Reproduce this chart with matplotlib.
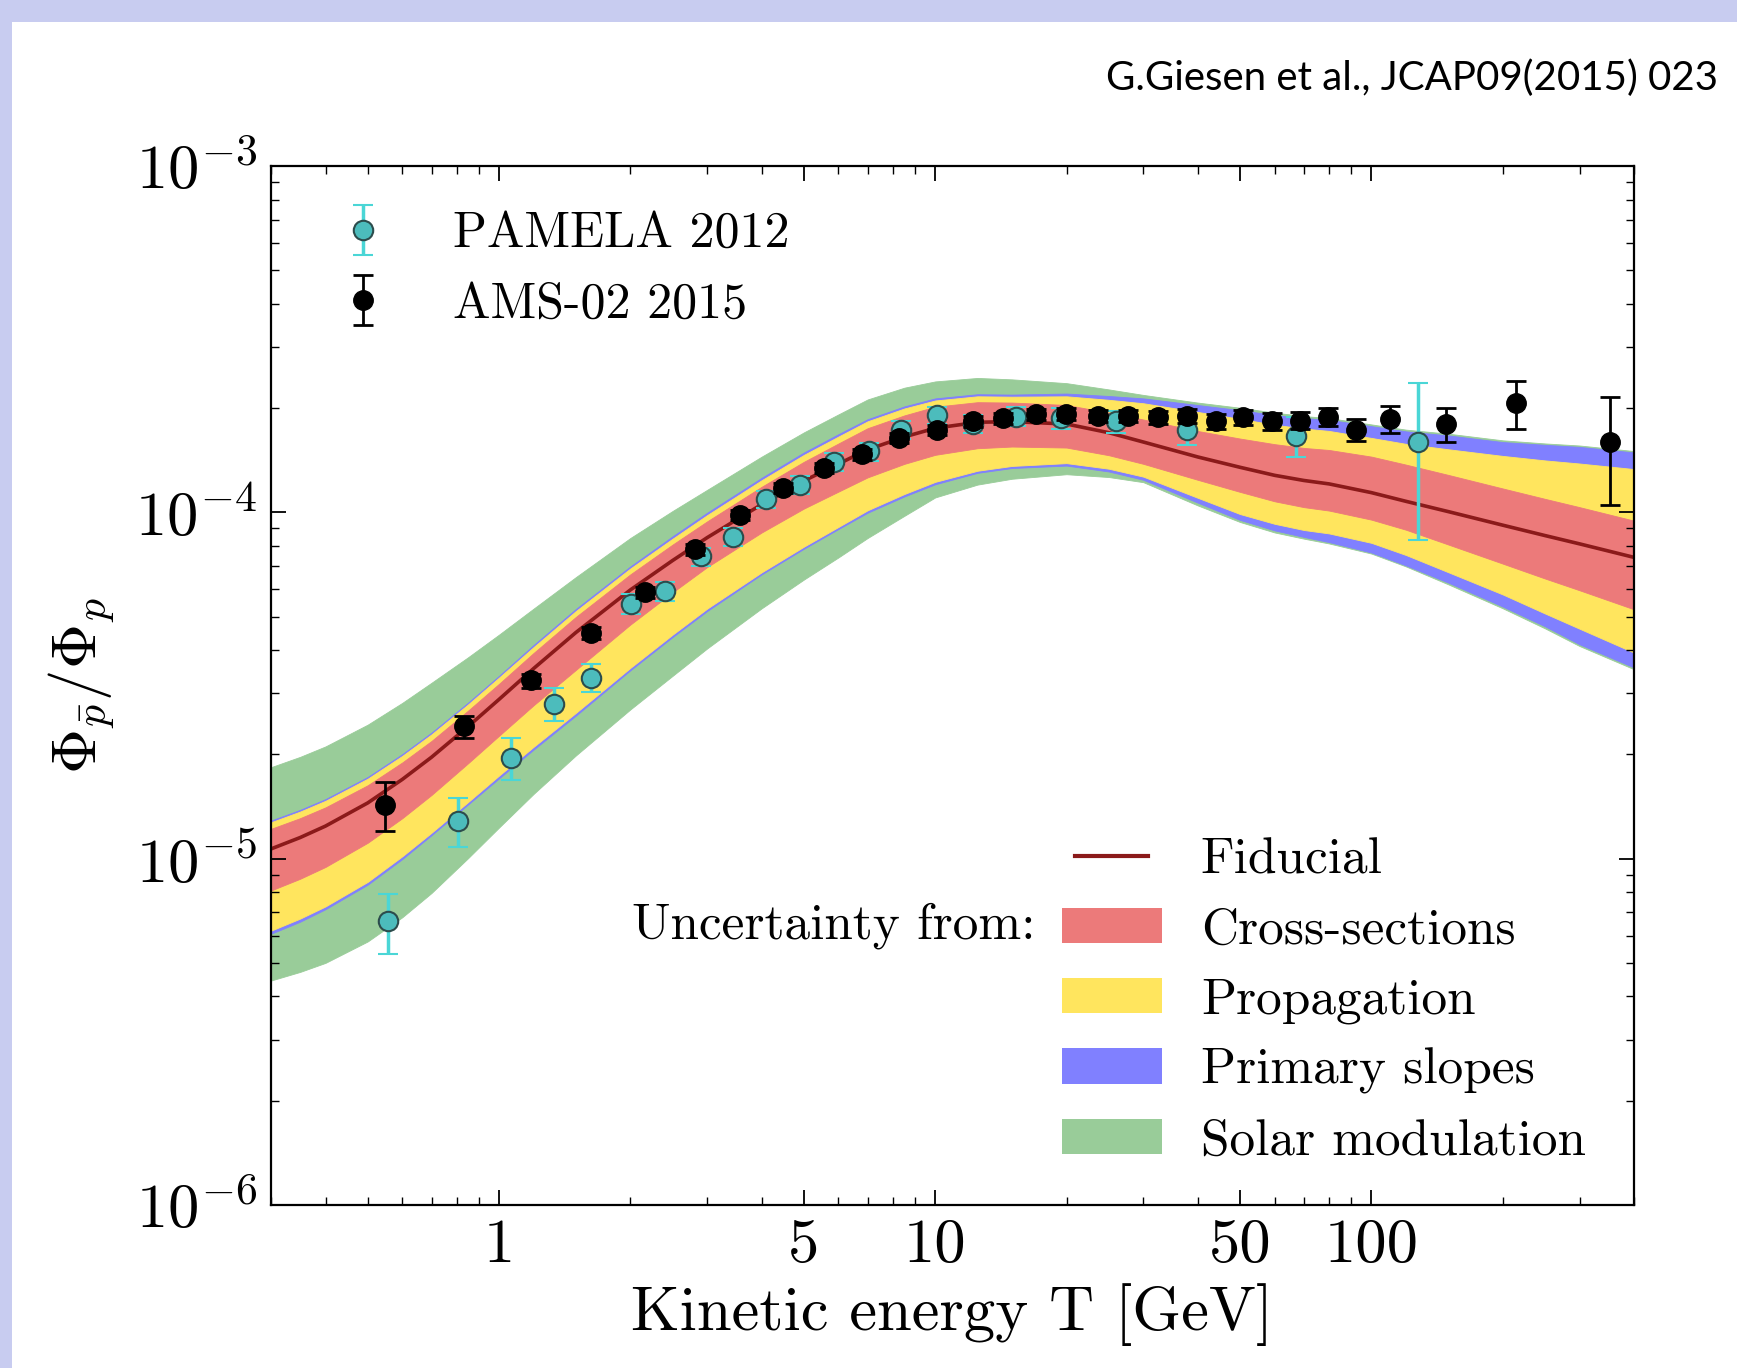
import matplotlib.pyplot as plt
import numpy as np
from matplotlib import ticker
from matplotlib.patches import Rectangle, Patch
from matplotlib.lines import Line2D
from matplotlib.legend_handler import HandlerLine2D

plt.rcParams['font.family'] = 'cmr10'
plt.rcParams['mathtext.fontset'] = 'cm'
plt.rcParams['axes.formatter.use_mathtext'] = True

# model curves (kinetic energy grid, GeV)
T_model = [0.3, 0.35, 0.4, 0.5, 0.6, 0.7, 0.85, 1, 1.2, 1.5, 2, 2.5, 3, 4, 5, 6, 7, 8.5, 10, 12.5,
           15, 20, 25, 30, 40, 50, 60, 70, 80, 100, 120, 150, 200, 250, 300, 400]
fiducial = [1.067e-5, 1.151e-5, 1.242e-5, 1.449e-5, 1.694e-5, 1.963e-5, 2.410e-5, 2.884e-5, 3.540e-5,
            4.498e-5, 5.970e-5, 7.261e-5, 8.453e-5, 1.054e-4, 1.233e-4, 1.380e-4, 1.517e-4, 1.652e-4,
            1.750e-4, 1.820e-4, 1.828e-4, 1.799e-4, 1.698e-4, 1.596e-4, 1.445e-4, 1.349e-4, 1.279e-4,
            1.236e-4, 1.208e-4, 1.140e-4, 1.076e-4, 1.005e-4, 9.183e-5, 8.570e-5, 8.110e-5, 7.413e-5]

# band half widths above / below the fiducial curve, in decades
red_up = [.058, .056, .054, .051, .049, .047, .046, .045, .045, .045, .045, .046, .047, .051, .055, .059, .062, .062,
          .062, .058, .055, .055, .058, .065, .075, .083, .090, .094, .098, .104, .106, .106, .106, .106, .106, .106]
red_dn = [.120, .119, .118, .115, .112, .109, .106, .105, .106, .108, .100, .092, .085, .081, .080, .080, .080, .078,
          .077, .075, .072, .068, .065, .063, .066, .071, .075, .077, .077, .078, .082, .095, .111, .124, .134, .150]
yel_up = [.077, .075, .073, .070, .068, .066, .064, .063, .062, .062, .062, .063, .065, .070, .075, .079, .082, .082,
          .080, .075, .072, .080, .095, .112, .130, .140, .146, .150, .153, .158, .166, .180, .200, .217, .232, .255]
yel_dn = [.236, .234, .232, .228, .222, .218, .218, .220, .226, .232, .225, .214, .205, .196, .190, .182, .175, .165,
          .155, .140, .128, .113, .104, .100, .118, .135, .140, .143, .143, .145, .155, .175, .200, .225, .245, .275]
blu_up = [.082, .080, .078, .075, .073, .071, .069, .068, .068, .068, .068, .070, .072, .077, .082, .086, .088, .088,
          .086, .081, .078, .088, .106, .126, .150, .165, .174, .180, .185, .192, .202, .220, .240, .262, .280, .303]
blu_dn = [.245, .243, .240, .236, .230, .225, .225, .228, .234, .240, .232, .221, .212, .202, .196, .188, .182, .172,
          .162, .146, .134, .120, .112, .109, .132, .152, .159, .163, .168, .173, .185, .205, .235, .262, .290, .318]
grn_up = [.236, .233, .230, .226, .221, .215, .200, .187, .173, .160, .150, .143, .138, .138, .140, .143, .145, .142,
          .135, .128, .122, .118, .125, .136, .157, .172, .181, .186, .190, .197, .207, .225, .245, .266, .284, .307]
grn_dn = [.380, .388, .395, .400, .398, .392, .380, .370, .362, .355, .345, .333, .320, .300, .285, .270, .255, .228,
          .200, .180, .165, .145, .128, .116, .140, .158, .165, .168, .172, .176, .188, .210, .240, .268, .295, .323]

# PAMELA 2012
T_pam = [0.556, 0.804, 1.066, 1.335, 1.626, 2.008, 2.405, 2.90, 3.44, 4.10, 4.89, 5.87, 7.05, 8.34,
         10.07, 12.2, 15.3, 19.4, 25.9, 37.8, 67.2, 128]
y_pam = [6.59e-6, 1.288e-5, 1.955e-5, 2.80e-5, 3.33e-5, 5.45e-5, 5.92e-5, 7.46e-5, 8.51e-5, 1.09e-4,
         1.20e-4, 1.40e-4, 1.50e-4, 1.73e-4, 1.91e-4, 1.80e-4, 1.89e-4, 1.87e-4, 1.83e-4, 1.73e-4,
         1.66e-4, 1.60e-4]
e_pam = [1.3e-6, 2.1e-6, 2.7e-6, 3.1e-6, 3.1e-6, 3.5e-6, 3.8e-6, 4.5e-6, 5e-6, 6e-6, 7e-6, 8e-6,
         9e-6, 1.0e-5, 1.1e-5, 1.1e-5, 1.2e-5, 1.3e-5, 1.3e-5, 1.7e-5, 2.2e-5, 7.7e-5]

# AMS-02 2015
T_ams = [0.547, 0.833, 1.184, 1.626, 2.164, 2.82, 3.56, 4.47, 5.57, 6.81, 8.27, 10.07, 12.2, 14.3,
         17.0, 19.9, 23.6, 27.6, 32.4, 37.8, 44.1, 50.8, 59.2, 68.7, 79.6, 92, 110.6, 148, 214, 353]
y_ams = [1.43e-5, 2.41e-5, 3.27e-5, 4.49e-5, 5.87e-5, 7.83e-5, 9.84e-5, 1.175e-4, 1.34e-4, 1.47e-4,
         1.64e-4, 1.73e-4, 1.83e-4, 1.87e-4, 1.92e-4, 1.92e-4, 1.90e-4, 1.90e-4, 1.88e-4, 1.90e-4,
         1.83e-4, 1.88e-4, 1.83e-4, 1.84e-4, 1.89e-4, 1.73e-4, 1.86e-4, 1.80e-4, 2.07e-4, 1.60e-4]
e_ams = [2.3e-6, 1.8e-6, 1.5e-6, 1.8e-6, 2.2e-6, 2.8e-6, 3.4e-6, 4e-6, 4.5e-6, 5e-6, 5.5e-6, 6e-6,
         6.5e-6, 7e-6, 7e-6, 7.5e-6, 7.5e-6, 8e-6, 8e-6, 8.5e-6, 9e-6, 9e-6, 1.0e-5, 1.05e-5, 1.1e-5,
         1.25e-5, 1.65e-5, 2.0e-5, 3.3e-5, 5.5e-5]

band_labels = ['Fiducial', 'Cross-sections', 'Propagation', 'Primary slopes', 'Solar modulation']

c_red = '#ec7a7a'
c_yel = '#ffe55e'
c_blu = '#8080ff'
c_grn = '#99cc99'
c_fid = '#8b1a1a'

fig = plt.figure(figsize=(17.37, 13.68), dpi=100, facecolor='#c8ccf0')
fig.patches.append(Rectangle((12 / 1737, 0), 1, 1 - 22 / 1368, transform=fig.transFigure,
                             facecolor='white', edgecolor='none', zorder=-1))
ax = fig.add_axes([0.15602, 0.11915, 0.78469, 0.75950])

T = np.array(T_model)
fid = np.array(fiducial)
for up, dn, col in [(grn_up, grn_dn, c_grn), (blu_up, blu_dn, c_blu),
                    (yel_up, yel_dn, c_yel), (red_up, red_dn, c_red)]:
    ax.fill_between(T, fid / 10 ** np.array(dn), fid * 10 ** np.array(up),
                    facecolor=col, edgecolor=col, lw=0.6)
ax.plot(T, fid, color=c_fid, lw=2.6)

pam = ax.errorbar(T_pam, y_pam, yerr=e_pam, fmt='o', ms=14, mfc='#4cbcbc', mec='#2c4c4c', mew=1.5,
                  ecolor='#4ad6d6', elinewidth=2.5, capsize=7, capthick=2.5, label='PAMELA 2012', zorder=5)
ams = ax.errorbar(T_ams, y_ams, yerr=e_ams, fmt='o', ms=14, color='black', ecolor='black',
                  elinewidth=2, capsize=7, capthick=2, label='AMS-02 2015', zorder=6)

ax.set_xscale('log')
ax.set_yscale('log')
ax.set_xlim(0.3, 400)
ax.set_ylim(1e-6, 1e-3)
ax.xaxis.set_major_locator(ticker.FixedLocator([1, 5, 10, 50, 100]))
ax.xaxis.set_major_formatter(ticker.FixedFormatter(['1', '5', '10', '50', '100']))
ax.xaxis.set_minor_locator(ticker.LogLocator(base=10, subs=np.arange(2, 10), numticks=20))
ax.xaxis.set_minor_formatter(ticker.NullFormatter())
ax.yaxis.set_major_locator(ticker.LogLocator(base=10, numticks=10))
ax.yaxis.set_major_formatter(ticker.FuncFormatter(lambda v, p: r'$10^{%d}$' % int(round(np.log10(v)))))
ax.yaxis.set_minor_locator(ticker.LogLocator(base=10, subs=np.arange(2, 10), numticks=10))
ax.yaxis.set_minor_formatter(ticker.NullFormatter())
ax.tick_params(which='both', direction='in', top=True, right=True, labelsize=45)
ax.tick_params(which='major', length=11, width=1.3, pad=10)
ax.tick_params(which='minor', length=6, width=1)
for s in ax.spines.values():
    s.set_linewidth(1.6)

ax.set_xlabel('Kinetic energy T [GeV]', fontsize=45)
ax.set_ylabel(r'$\Phi_{\bar{p}}/\Phi_p$', fontsize=45)
ax.xaxis.set_label_coords(0.5, -0.075)
ax.yaxis.set_label_coords(-0.113, 0.5)

leg1 = ax.legend(handles=[pam, ams], loc='upper left', bbox_to_anchor=(0.049, 0.9565), frameon=False,
                 fontsize=36, handlelength=1.0, handletextpad=1.3, borderpad=0, borderaxespad=0,
                 labelspacing=0.5)
ax.add_artist(leg1)

fid_handle = Line2D([], [], color=c_fid, lw=3)
handles2 = [fid_handle, Patch(facecolor=c_red), Patch(facecolor=c_yel), Patch(facecolor=c_blu),
            Patch(facecolor=c_grn)]
ax.legend(handles2, band_labels, loc='lower left', bbox_to_anchor=(0.58, 0.039), frameon=False,
          fontsize=37, handlelength=1.95, handleheight=0.68, handletextpad=0.76, borderpad=0,
          borderaxespad=0, labelspacing=0.47,
          handler_map={fid_handle: HandlerLine2D(numpoints=2, marker_pad=0.27)})
ax.text(0.561, 0.2685, 'Uncertainty from:', transform=ax.transAxes, fontsize=37, ha='right', va='center')

fig.text(1718 / 1737, 1 - 78 / 1368, 'G.Giesen et al., JCAP09(2015) 023', fontsize=29,
         family='Lato', ha='right', va='center')

fig.savefig('out.png', dpi=100, facecolor=fig.get_facecolor())
